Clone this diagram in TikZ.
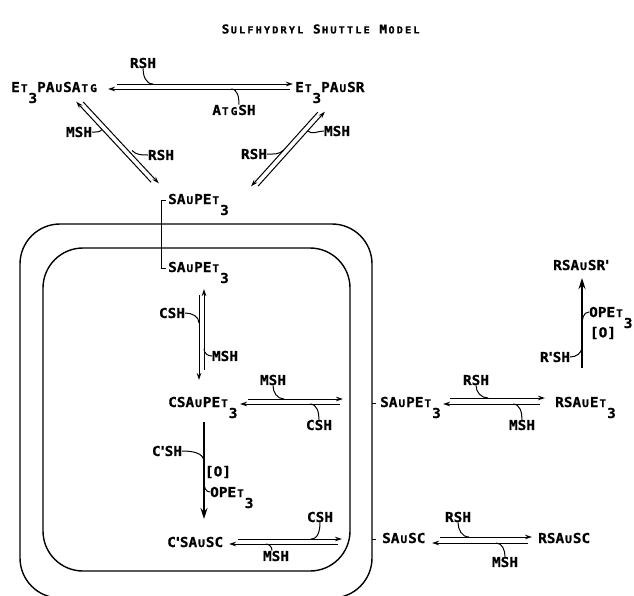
\documentclass[tikz,border=0pt]{standalone}
\usepackage{fontspec}
\newfontfamily\tw[FakeStretch=1.05,FakeBold=0.6]{DejaVu Sans Mono}
\usetikzlibrary{arrows.meta}
\newcommand\sm[1]{\setbox0\hbox{M}\makebox[\wd0][c]{\fontsize{10.6}{11}\selectfont #1}}
\newcommand\subthree{\raisebox{-11pt}{3}}
\newcommand\ap{\makebox[4pt][c]{'}}
\newcommand\tb[1]{\makebox[8.3pt][c]{#1}}
\newcommand\ts[1]{\makebox[8.3pt][c]{\fontsize{9.8}{10}\selectfont #1}}
\tikzset{
  txt/.style={inner sep=0pt, font=\tw\bfseries\fontsize{13.7}{15}\selectfont},
  cmp/.style={txt, anchor=base west},
  lab/.style={txt, anchor=center},
  arr/.style={line width=1pt, -{Stealth[length=7pt,width=4.5pt]}},
  big/.style={line width=1.4pt, -{Stealth[length=11pt,width=7pt]}},
  hook/.style={line width=1pt},
  wall/.style={line width=1.4pt, rounded corners=40pt}
}
\begin{document}
\begin{tikzpicture}[x=1pt,y=-1pt]
\useasboundingbox (0,0) rectangle (634,595);
\fill[white] (0,0) rectangle (634,595);
\clip (0,0) rectangle (634,595);

% title
\node[txt, font=\tw\bfseries\fontsize{12.2}{13}\selectfont] (title) at (321,29)
 {\tb{S}\ts{U}\ts{L}\ts{F}\ts{H}\ts{Y}\ts{D}\ts{R}\ts{Y}\ts{L}\tb{ }\tb{S}\ts{H}\ts{U}\ts{T}\ts{T}\ts{L}\ts{E}\tb{ }\tb{M}\ts{O}\ts{D}\ts{E}\ts{L}};

% cell walls
\draw[wall] (20,224) rectangle (372,598);
\draw[wall] (43,248) rectangle (350,571);

% compounds
\node[cmp] (n1) at (11,92) {E\sm{T}\subthree PA\sm{U}SA\sm{T}\sm{G}};
\node[cmp] (n2) at (295,92) {E\sm{T}\subthree PA\sm{U}SR};
\node[cmp] (n3) at (168,204) {SA\sm{U}PE\sm{T}\subthree};
\node[cmp] (n4) at (168,272) {SA\sm{U}PE\sm{T}\subthree};
\node[cmp] (n5) at (168,407) {CSA\sm{U}PE\sm{T}\subthree};
\node[cmp] (n6) at (167,547) {C\ap SA\sm{U}SC};
\node[cmp] (n7) at (380,407) {SA\sm{U}PE\sm{T}\subthree};
\node[cmp] (n8) at (555,407) {RSA\sm{U}E\sm{T}\subthree};
\node[cmp] (n9) at (553,270) {RSA\sm{U}SR\ap};
\node[cmp] (n10) at (382,543) {SA\sm{U}SC};
\node[cmp] (n11) at (538,543) {RSA\sm{U}SC};

% reagent labels
\node[lab] (l1) at (143,63) {RSH};
\node[lab] (l2) at (234,110) {A\sm{T}\sm{G}SH};
\node[lab] (l3) at (79,132) {MSH};
\node[lab] (l4) at (161,155) {RSH};
\node[lab] (l5) at (337,131) {MSH};
\node[lab] (l6) at (254,154) {RSH};
\node[lab] (l7) at (172,313) {CSH};
\node[lab] (l8) at (225,356) {MSH};
\node[lab] (l9) at (273,380) {MSH};
\node[lab] (l10) at (319,425) {CSH};
\node[lab] (l11) at (167,451) {C\ap SH};
\node[lab] (l12) at (218,472) {[O]};
\node[cmp] (l13) at (210,497) {OPE\sm{T}\subthree};
\node[lab] (l14) at (320,517) {CSH};
\node[lab] (l15) at (276,556) {MSH};
\node[lab] (l16) at (476,380) {RSH};
\node[lab] (l17) at (522,425) {MSH};
\node[cmp] (l18) at (589,317) {OPE\sm{T}\subthree};
\node[lab] (l19) at (603,333) {[O]};
\node[lab] (l20) at (555,357) {R\ap SH};
\node[lab] (l21) at (458,517) {RSH};
\node[lab] (l22) at (505,562) {MSH};

% coordinates
\coordinate (a1s) at (117,84);   \coordinate (a1e) at (293,84);
\coordinate (a2s) at (290,89);   \coordinate (a2e) at (108,89);
\coordinate (h1) at (153,84);    \coordinate (h2) at (231,89);
\coordinate (b1s) at (83.2,102); \coordinate (b1e) at (158.8,183.3);
\coordinate (b2s) at (151.1,182.3); \coordinate (b2e) at (76.2,101.7);
\coordinate (hb1) at (102.1,129.6); \coordinate (hb2) at (132,150.5);
\coordinate (c1s) at (317.8,112.1); \coordinate (c1e) at (251.1,186.3);
\coordinate (c2s) at (258.1,186.1); \coordinate (c2e) at (324.9,111.7);
\coordinate (hc1) at (307.6,131);   \coordinate (hc2) at (283.7,150);
\coordinate (v1s) at (199,295); \coordinate (v1e) at (199,380);
\coordinate (v2s) at (204,370); \coordinate (v2e) at (204,289);
\coordinate (hv1) at (199,323); \coordinate (hv2) at (204,349);
\coordinate (d1s) at (248,399); \coordinate (d1e) at (343,399);
\coordinate (d2s) at (340,404); \coordinate (d2e) at (240,404);
\coordinate (hd1) at (284,399); \coordinate (hd2) at (310,404);
\coordinate (e1s) at (204,422); \coordinate (e1e) at (204,519);
\coordinate (he1) at (204,462); \coordinate (he2) at (204,483);
\coordinate (f1s) at (238,539); \coordinate (f1e) at (342,539);
\coordinate (f2s) at (338,544); \coordinate (f2e) at (229,544);
\coordinate (hf1) at (311,539); \coordinate (hf2) at (266,544);
\coordinate (g1s) at (450,398); \coordinate (g1e) at (545,398);
\coordinate (g2s) at (540,404); \coordinate (g2e) at (443,404);
\coordinate (hg1) at (488,398); \coordinate (hg2) at (513,404);
\coordinate (u1s) at (582,368); \coordinate (u1e) at (582,278);
\coordinate (hu1) at (582,326); \coordinate (hu2) at (582,347);
\coordinate (k1s) at (440,537); \coordinate (k1e) at (532,537);
\coordinate (k2s) at (528,543); \coordinate (k2e) at (432,543);
\coordinate (hk1) at (469,537); \coordinate (hk2) at (496,543);
\coordinate (br1) at (166,200); \coordinate (br2) at (161,200);
\coordinate (br3) at (161,268); \coordinate (br4) at (166,268);
\coordinate (t1a) at (372,403); \coordinate (t1b) at (376,403);
\coordinate (t2a) at (372,539); \coordinate (t2b) at (376,539);

% top equilibrium
\draw[arr] (a1s) -- (a1e);
\draw[arr] (a2s) -- (a2e);
\draw[hook] (l1.south) to[out=-90,in=180] (h1);
\draw[hook] (h2) to[out=0,in=90] ([xshift=5pt]l2.north);

% left diagonal
\draw[arr] (b1s) -- (b1e);
\draw[arr] (b2s) -- (b2e);
\draw[hook] (l3.east) to[out=0,in=-135] (hb1);
\draw[hook] (l4.west) to[out=180,in=-45] (hb2);

% right diagonal
\draw[arr] (c1s) -- (c1e);
\draw[arr] (c2s) -- (c2e);
\draw[hook] (l5.west) to[out=180,in=-40] (hc1);
\draw[hook] (l6.east) to[out=0,in=-135] (hc2);

% membrane transport bracket
\draw[hook] (br1) -- (br2) -- (br3) -- (br4);
\draw[hook] (t1a) -- (t1b);
\draw[hook] (t2a) -- (t2b);

% inner vertical equilibrium
\draw[arr] (v1s) -- (v1e);
\draw[arr] (v2s) -- (v2e);
\draw[hook] (l7.east) to[out=0,in=90] (hv1);
\draw[hook] (l8.west) to[out=180,in=-90] (hv2);

% CSAuPEt3 equilibrium
\draw[arr] (d1s) -- (d1e);
\draw[arr] (d2s) -- (d2e);
\draw[hook] (l9.south) to[out=-90,in=180] (hd1);
\draw[hook] (l10.north) to[out=90,in=0] (hd2);

% oxidation inside
\draw[big] (e1s) -- (e1e);
\draw[hook] (l11.east) to[out=0,in=90] (he1);
\draw[hook] (he2) to[out=-90,in=180] ([yshift=5pt]l13.base west);

% C'SAuSC equilibrium
\draw[arr] (f1s) -- (f1e);
\draw[arr] (f2s) -- (f2e);
\draw[hook] (l14.south) to[out=-90,in=0] (hf1);
\draw[hook] ([xshift=-4pt]l15.north) to[out=90,in=0] (hf2);

% outside SAuPEt3 equilibrium
\draw[arr] (g1s) -- (g1e);
\draw[arr] (g2s) -- (g2e);
\draw[hook] (l16.south) to[out=-90,in=180] (hg1);
\draw[hook] (l17.north) to[out=90,in=0] (hg2);

% outside oxidation
\draw[big] (u1s) -- (u1e);
\draw[hook] (hu1) to[out=90,in=180] ([yshift=5pt]l18.base west);
\draw[hook] (l20.east) to[out=0,in=-90] (hu2);

% outside SAuSC equilibrium
\draw[arr] (k1s) -- (k1e);
\draw[arr] (k2s) -- (k2e);
\draw[hook] (l21.south) to[out=-90,in=180] (hk1);
\draw[hook] (l22.north) to[out=90,in=0] (hk2);
\end{tikzpicture}
\end{document}
